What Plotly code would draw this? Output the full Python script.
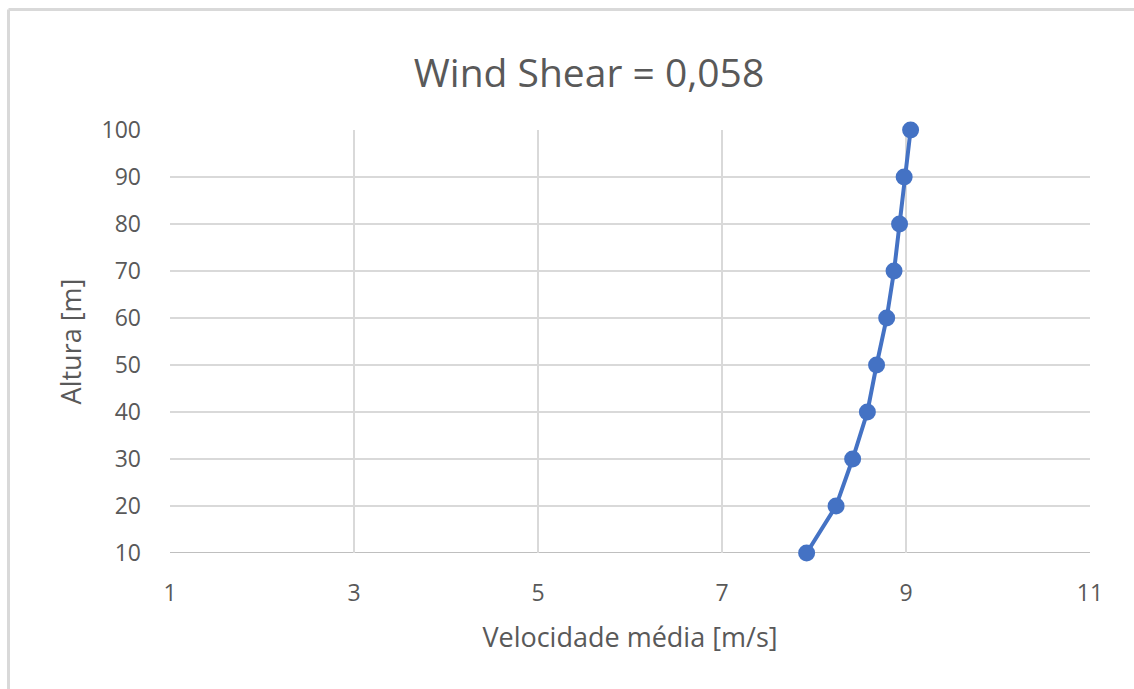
import plotly.graph_objects as go

velocidade = [7.92, 8.24, 8.42, 8.58, 8.68, 8.79, 8.87, 8.93, 8.98, 9.05]
altura = [10, 20, 30, 40, 50, 60, 70, 80, 90, 100]
x_ticks = [1, 3, 5, 7, 9, 11]
y_ticks = [10, 20, 30, 40, 50, 60, 70, 80, 90, 100]

W, H = 1134, 689
L, R, T, B = 170, 44, 130, 136
pw, ph = W - L - R, H - T - B

fig = go.Figure()
fig.add_trace(go.Scatter(
    x=velocidade, y=altura, mode="lines+markers",
    line=dict(color="#4472C4", width=4),
    marker=dict(color="#4472C4", size=17),
    cliponaxis=False,
    showlegend=False,
))

font = "Open Sans, Segoe UI, sans-serif"
grid = "#d9d9d9"
txt = "#595959"

fig.update_layout(
    width=W, height=H,
    margin=dict(l=L, r=R, t=T, b=B),
    paper_bgcolor="white", plot_bgcolor="white",
    font=dict(family=font, color=txt),
    title=dict(text="Wind Shear = 0,058", x=589 / W, xanchor="center",
               y=1 - 73 / H, yanchor="middle",
               font=dict(size=39, color=txt, family=font)),
    xaxis=dict(range=[1, 11], tickvals=x_ticks, showgrid=True, gridcolor=grid,
               gridwidth=2, zeroline=False, showline=False,
               tickfont=dict(size=23, color=txt), ticks="",
               ticklabelstandoff=24,
               title=dict(text="Velocidade média [m/s]", font=dict(size=27, color=txt),
                          standoff=21)),
    yaxis=dict(range=[10, 100], tickvals=y_ticks, showgrid=True, gridcolor=grid,
               gridwidth=2, zeroline=False, showline=False,
               tickfont=dict(size=23, color=txt), ticks="",
               ticklabelstandoff=28,
               title=dict(text="Altura [m]", font=dict(size=27, color=txt),
                          standoff=12)),
)

# bottom axis line (slightly darker) and chart-area border (top/left)
fig.add_shape(type="line", xref="x", yref="y", x0=1, x1=11, y0=10, y1=10,
              line=dict(color="#bfbfbf", width=2), layer="below")
fig.add_shape(type="line", xref="paper", yref="paper",
              x0=(8.5 - L) / pw, x1=(W + 10 - L) / pw,
              y0=(H - B - 9.5) / ph, y1=(H - B - 9.5) / ph,
              line=dict(color="#d9d9d9", width=3))
fig.add_shape(type="line", xref="paper", yref="paper",
              x0=(8.5 - L) / pw, x1=(8.5 - L) / pw,
              y0=(H - B - 9.5) / ph, y1=(-B - 10) / ph,
              line=dict(color="#d9d9d9", width=3))

fig.write_html("out.html")
